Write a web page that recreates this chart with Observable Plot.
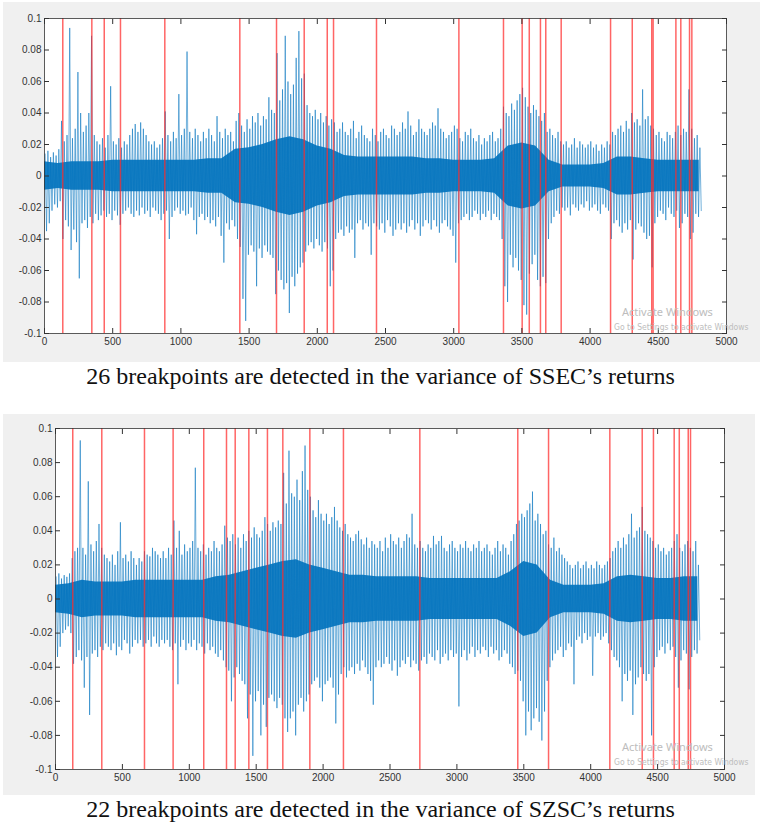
<!DOCTYPE html>
<html>
<head>
<meta charset="utf-8">
<script src="https://cdn.jsdelivr.net/npm/d3@7"></script>
<script src="https://cdn.jsdelivr.net/npm/@observablehq/plot@0.6"></script>
<style>
  html, body { margin: 0; padding: 0; background: #ffffff; }
  body { width: 761px; height: 827px; position: relative; overflow: hidden; }
  .fig { position: absolute; background: #f0f0f0; }
  .cap { position: absolute; left: 0; width: 761px; text-align: center;
         font-family: "Liberation Serif", "Times New Roman", serif; font-size: 24px;
         line-height: 28px; height: 28px; color: #111; white-space: nowrap; }
  .wm1 { position: absolute; font-family: "Noto Sans", "Open Sans", sans-serif; font-size: 11px;
         line-height: 11px; color: #bdbdbd; white-space: nowrap; }
  .wm2 { position: absolute; font-family: "DejaVu Sans Condensed", "DejaVu Sans", sans-serif; font-size: 8.5px;
         line-height: 9px; color: #bdbdbd; white-space: nowrap; }
</style>
</head>
<body>
<div id="fig1" class="fig" style="left:3px;top:2px;width:757px;height:360px;"></div>
<div class="cap" style="top:362px;">26 breakpoints are detected in the variance of SSEC’s returns</div>
<div id="fig2" class="fig" style="left:3px;top:414px;width:752px;height:381px;"></div>
<div class="cap" style="top:795px;">22 breakpoints are detected in the variance of SZSC’s returns</div>
<div class="wm1" style="left:622px;top:306px;">Activate Windows</div>
<div class="wm2" style="left:614px;top:323px;">Go to Settings to activate Windows</div>
<div class="wm1" style="left:622px;top:741px;">Activate Windows</div>
<div class="wm2" style="left:614px;top:758px;">Go to Settings to activate Windows</div>
<script>
// ---------- axis ticks ----------
const xTicks = [0, 500, 1000, 1500, 2000, 2500, 3000, 3500, 4000, 4500, 5000];
const yTicks = [-0.1, -0.08, -0.06, -0.04, -0.02, 0, 0.02, 0.04, 0.06, 0.08, 0.1];

// ---------- data ----------
// Daily returns are summarised per 20-trading-day window: highest and lowest return
// in each window (units of 0.001).
const windowDays = 20;
// Dense core of the series (typical absolute return, units of 0.001) per 100 days.
const coreDays = 100;

// SSEC (upper panel)
const ssecHi = [
  14, 16, 12, 15, 13, 17, 35, 22, 26, 94,
  24, 30, 66, 40, 28, 32, 40, 89, 26, 22,
  20, 24, 18, 26, 57, 22, 20, 24, 18, 22,
  20, 26, 30, 33, 28, 34, 30, 26, 22, 20,
  22, 18, 20, 24, 41, 26, 22, 28, 24, 52,
  26, 30, 79, 28, 24, 30, 26, 22, 28, 24,
  30, 26, 22, 38, 28, 24, 30, 26, 28, 22,
  35, 40, 32, 28, 36, 30, 38, 34, 40, 32,
  38, 36, 50, 42, 40, 78, 48, 55, 89, 60,
  52, 58, 75, 92, 62, 65, 45, 40, 38, 42,
  36, 40, 34, 38, 32, 36, 34, 28, 30, 34,
  28, 26, 30, 35, 24, 28, 32, 26, 24, 22,
  30, 26, 22, 28, 30, 26, 24, 32, 30, 26,
  28, 34, 30, 41, 32, 26, 28, 36, 30, 28,
  26, 30, 34, 32, 43, 30, 28, 24, 26, 28,
  32, 30, 24, 22, 28, 26, 30, 24, 22, 26,
  20, 24, 22, 26, 28, 22, 24, 30, 44, 40,
  38, 46, 42, 48, 52, 56, 50, 44, 40, 45,
  42, 38, 35, 40, 28, 30, 26, 24, 28, 22,
  20, 22, 18, 20, 24, 18, 22, 20, 18, 20,
  22, 18, 20, 16, 20, 18, 22, 20, 28, 26,
  30, 32, 28, 35, 30, 40, 34, 36, 32, 55,
  36, 38, 32, 30, 26, 28, 24, 22, 28, 26,
  24, 28, 32, 26, 30, 28, 55, 30, 24, 26,
  18
];
const ssecLo = [
  -35, -30, -22, -18, -20, -16, -40, -28, -32, -47,
  -34, -42, -65, -30, -28, -33, -26, -30, -24, -28,
  -25, -22, -26, -24, -28, -22, -25, -31, -24, -22,
  -20, -24, -26, -22, -25, -20, -24, -22, -26, -20,
  -22, -24, -28, -24, -22, -40, -26, -22, -20, -24,
  -22, -25, -24, -20, -28, -37, -26, -24, -28, -26,
  -30, -28, -32, -26, -38, -55, -30, -34, -28, -32,
  -40, -45, -78, -92, -50, -44, -48, -70, -46, -52,
  -44, -48, -50, -52, -75, -60, -66, -72, -68, -87,
  -64, -70, -62, -58, -55, -48, -44, -42, -46, -40,
  -44, -48, -42, -46, -70, -60, -40, -36, -34, -38,
  -32, -36, -34, -52, -30, -28, -34, -30, -32, -50,
  -30, -32, -34, -30, -36, -28, -32, -38, -34, -30,
  -34, -30, -36, -32, -28, -34, -30, -38, -32, -28,
  -30, -34, -28, -32, -36, -30, -28, -32, -34, -38,
  -55, -30, -28, -26, -24, -28, -26, -22, -24, -28,
  -24, -26, -22, -28, -24, -26, -28, -40, -70, -80,
  -50, -58, -52, -60, -66, -82, -88, -62, -56, -50,
  -66, -70, -64, -68, -40, -30, -26, -22, -24, -20,
  -22, -20, -25, -18, -20, -22, -18, -20, -16, -22,
  -20, -18, -22, -24, -18, -20, -22, -40, -30, -28,
  -32, -36, -30, -34, -28, -53, -34, -30, -32, -36,
  -40, -38, -58, -30, -26, -22, -24, -28, -20, -24,
  -26, -22, -33, -30, -24, -26, -40, -36, -24, -26,
  -22
];
const ssecCore = [
   9,  8,  9,  9,  9, 10, 10, 10, 10, 10,
  10, 10, 11, 11, 17, 18, 20, 23, 25, 23,
  19, 17, 13, 12, 12, 12, 12, 12, 11, 11,
  10, 10, 10, 11, 19, 21, 19, 10,  7,  7,
   7,  8, 12, 12, 11, 10, 10, 10, 10
];
const ssecBreaks = [134, 347, 438, 557, 882, 1432, 1701, 1904, 2073, 2119, 2434,
  3038, 3365, 3502, 3554, 3636, 3675, 3788, 4150, 4309, 4452, 4462, 4629, 4665, 4729, 4746];

// SZSC (lower panel)
const szscHi = [
  13, 15, 12, 14, 13, 15, 24, 28, 30, 93,
  30, 26, 69, 32, 28, 34, 44, 30, 26, 24,
  22, 26, 20, 28, 45, 24, 26, 22, 28, 24,
  20, 24, 22, 28, 26, 25, 30, 28, 26, 24,
  28, 24, 30, 26, 46, 30, 40, 26, 32, 28,
  30, 34, 77, 30, 28, 32, 26, 30, 28, 34,
  30, 28, 32, 43, 36, 34, 38, 32, 36, 30,
  38, 34, 40, 36, 42, 38, 36, 40, 48, 44,
  40, 45, 42, 46, 44, 74, 56, 87, 62, 60,
  70, 58, 75, 90, 64, 60, 52, 48, 58, 50,
  46, 50, 44, 48, 54, 46, 42, 40, 44, 38,
  36, 34, 38, 40, 35, 32, 36, 30, 34, 32,
  30, 34, 28, 36, 30, 38, 34, 32, 36, 30,
  34, 38, 36, 50, 32, 30, 34, 30, 28, 32,
  30, 37, 32, 34, 37, 30, 28, 32, 34, 30,
  28, 32, 30, 34, 30, 28, 32, 30, 34, 28,
  30, 32, 28, 26, 30, 34, 28, 32, 30, 26,
  34, 38, 44, 46, 50, 48, 52, 56, 63, 46,
  50, 44, 38, 40, 32, 30, 36, 28, 30, 26,
  24, 22, 20, 18, 20, 22, 18, 20, 22, 18,
  20, 18, 22, 20, 18, 20, 22, 24, 28, 30,
  34, 30, 36, 32, 38, 50, 36, 40, 42, 54,
  40, 38, 36, 34, 30, 32, 28, 30, 26, 28,
  30, 34, 38, 30, 28, 32, 34, 30, 28, 34,
  20
];
const szscLo = [
  -34, -28, -20, -18, -16, -20, -38, -34, -30, -36,
  -52, -34, -68, -32, -30, -34, -28, -30, -26, -28,
  -30, -26, -33, -28, -30, -24, -26, -32, -28, -24,
  -26, -24, -28, -26, -24, -28, -22, -26, -28, -24,
  -26, -24, -28, -30, -26, -50, -28, -24, -30, -26,
  -28, -24, -30, -26, -28, -32, -26, -30, -28, -32,
  -34, -30, -36, -40, -42, -60, -46, -40, -44, -48,
  -50, -70, -56, -92, -60, -54, -80, -62, -75, -58,
  -56, -60, -64, -58, -62, -70, -78, -70, -66, -80,
  -62, -58, -66, -60, -56, -50, -48, -46, -52, -60,
  -50, -48, -46, -52, -73, -56, -44, -40, -46, -42,
  -40, -44, -38, -42, -36, -40, -44, -48, -62, -40,
  -36, -40, -38, -34, -38, -42, -36, -45, -40, -36,
  -38, -34, -40, -36, -38, -42, -36, -34, -38, -32,
  -34, -36, -30, -38, -34, -32, -36, -30, -34, -32,
  -63, -34, -30, -36, -32, -28, -34, -30, -32, -28,
  -30, -34, -28, -32, -30, -36, -34, -30, -32, -38,
  -40, -44, -42, -48, -60, -80, -66, -77, -70, -64,
  -72, -83, -66, -48, -40, -36, -32, -30, -28, -34,
  -30, -26, -28, -50, -24, -22, -26, -20, -24, -22,
  -45, -22, -20, -24, -22, -20, -26, -30, -34, -36,
  -40, -60, -44, -48, -42, -68, -50, -46, -40, -44,
  -48, -44, -80, -40, -34, -30, -28, -32, -26, -30,
  -28, -34, -52, -36, -30, -32, -53, -34, -30, -32,
  -24
];
const szscCore = [
   8,  9, 11, 10, 10, 10, 11, 11, 11, 11,
  11, 11, 13, 14, 16, 18, 20, 22, 23, 20,
  18, 16, 14, 14, 13, 13, 13, 13, 12, 12,
  12, 12, 12, 12, 16, 22, 20, 11,  8,  8,
   8,  9, 13, 14, 13, 12, 12, 13, 13
];
const szscBreaks = [129, 346, 665, 879, 1108, 1278, 1343, 1445, 1584, 1699, 1901, 2152,
  2723, 3455, 3685, 4143, 4385, 4469, 4624, 4662, 4729, 4746];

// ---------- drawing ----------
const fmtY = d => d === 0 ? "0" : d.toFixed(2).replace(/0$/, "");

function panel(hi, lo, core, breaks, size) {
  // the trace runs through each window's high then its low
  const trace = hi.flatMap((h, i) => [
    {day: i * windowDays + windowDays / 4, r: h / 1000},
    {day: i * windowDays + 3 * windowDays / 4, r: lo[i] / 1000}
  ]);
  const band = core.map((c, k) => ({day: k * coreDays, c: c / 1000}));
  return Plot.plot({
    width: size.width, height: size.height,
    marginLeft: size.ml, marginRight: size.mr, marginTop: size.mt, marginBottom: size.mb,
    x: {domain: [0, 5000]},
    y: {domain: [-0.1, 0.1]},
    style: {background: "transparent", color: "#333", fontFamily: "'Liberation Sans', Arial, sans-serif", fontSize: "10px", overflow: "visible"},
    marks: [
      Plot.frame({fill: "white", stroke: "none"}),
      Plot.areaY(band, {x: "day", y1: d => -d.c, y2: d => d.c, fill: "#0072BD", fillOpacity: 0.9, curve: "linear"}),
      Plot.line(trace, {x: "day", y: "r", stroke: "#0072BD", strokeOpacity: 0.62, strokeWidth: 0.9}),
      Plot.ruleX(breaks, {x: d => d, stroke: "#ff2a2a", strokeOpacity: 0.72, strokeWidth: 1.5}),
      Plot.axisX(xTicks, {anchor: "bottom", tickSize: -5, tickPadding: 9, label: null, tickFormat: d => String(d)}),
      Plot.axisX(xTicks, {anchor: "top", tickSize: -5, label: null, tickFormat: () => ""}),
      Plot.axisY(yTicks, {anchor: "left", tickSize: -5, tickPadding: 8, label: null, tickFormat: fmtY}),
      Plot.axisY(yTicks, {anchor: "right", tickSize: -5, label: null, tickFormat: () => ""}),
      Plot.frame({stroke: "#333", strokeWidth: 0.8})
    ]
  });
}

document.getElementById("fig1").append(
  panel(ssecHi, ssecLo, ssecCore, ssecBreaks, {width: 757, height: 360, ml: 41, mr: 34, mt: 16, mb: 29})
);
document.getElementById("fig2").append(
  panel(szscHi, szscLo, szscCore, szscBreaks, {width: 752, height: 381, ml: 52, mr: 31, mt: 14, mb: 26})
);
</script>
</body>
</html>
